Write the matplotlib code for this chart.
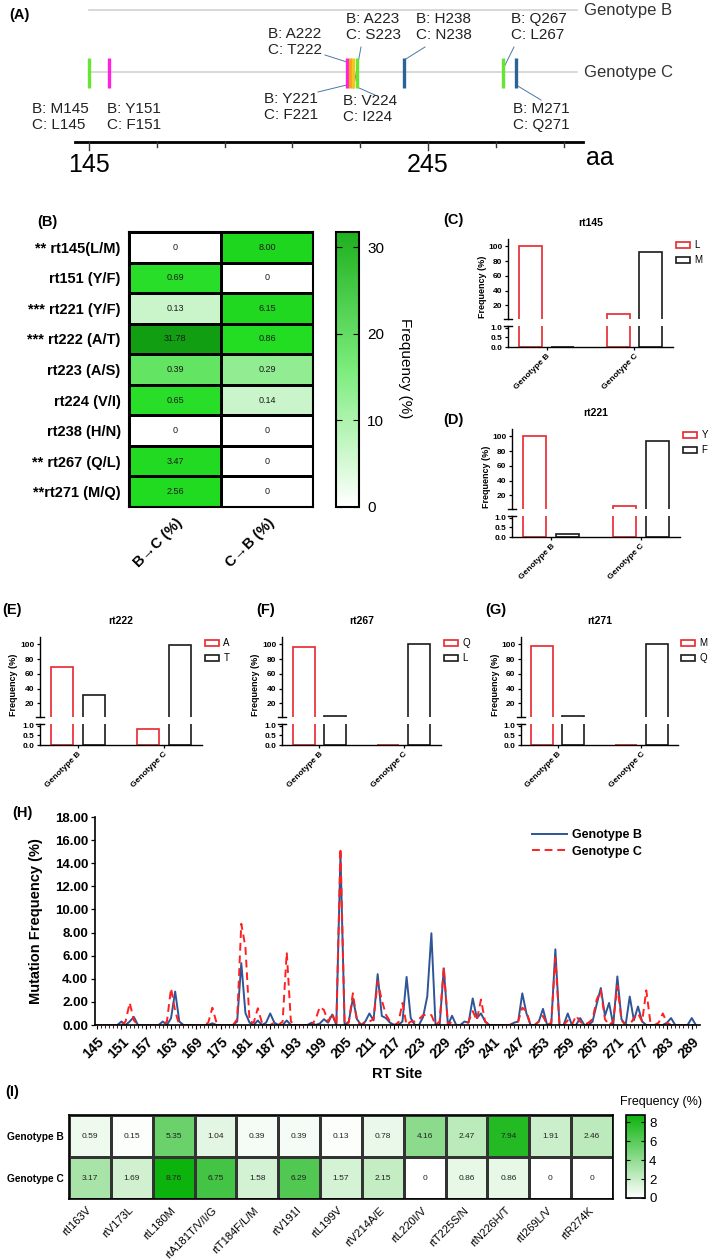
import numpy as np
import matplotlib.pyplot as plt
from matplotlib.colors import LinearSegmentedColormap, Normalize
from matplotlib.cm import ScalarMappable
from matplotlib.patches import Patch

plt.rcParams['font.family'] = ['Liberation Sans', 'DejaVu Sans']

# ---------------- data ----------------
# (A) mutation map
mut_sites = [145, 151, 221, 222, 223, 224, 238, 267, 271]
aa_B = ['M', 'Y', 'Y', 'A', 'A', 'V', 'H', 'Q', 'M']
aa_C = ['L', 'F', 'F', 'T', 'S', 'I', 'N', 'L', 'Q']

# (B) conversion heatmap
mut_rows = ['** rt145(L/M)', 'rt151 (Y/F)', '*** rt221 (Y/F)', '*** rt222 (A/T)',
            'rt223 (A/S)', 'rt224 (V/I)', 'rt238 (H/N)', '** rt267 (Q/L)', '**rt271 (M/Q)']
shift_cols = ['B\u2192C (%)', 'C\u2192B (%)']
b_to_c = [0, 0.69, 0.13, 31.78, 0.39, 0.65, 0, 3.47, 2.56]
c_to_b = [8.00, 0, 6.15, 0.86, 0.29, 0.14, 0, 0, 0]

# (C)-(G) residue frequencies
geno_groups = ['Genotype B', 'Genotype C']
rt145_L = [100, 8]
rt145_M = [0, 92]
rt221_Y = [100, 6]
rt221_F = [0.15, 94]
rt222_A = [69, 0.86]
rt222_T = [32, 99]
rt267_Q = [97, 0]
rt267_L = [3.5, 100]
rt271_M = [98, 0]
rt271_Q = [2.5, 100]

# (H) mutation frequency along RT sites 145-290
rt_sites = np.arange(145, 291)
freq_B = [0, 0, 0, 0, 0, 0, 0.3, 0, 0.3, 0.7,
          0, 0, 0, 0, 0, 0, 0.3, 0, 0.59, 2.9,
          0.3, 0, 0, 0, 0, 0, 0, 0, 0.15, 0,
          0, 0, 0, 0, 0.3, 5.35, 1.04, 0.2, 0, 0.39,
          0, 0.2, 1.0, 0.2, 0, 0, 0.39, 0, 0, 0,
          0, 0, 0.2, 0, 0.13, 0.5, 0.2, 0.9, 0, 14.8,
          0, 0.3, 2.3, 0.5, 0, 0.3, 1.0, 0.4, 4.4, 0.78,
          0.6, 0.2, 0, 0, 0.3, 4.16, 0.6, 0, 0, 0.7,
          2.47, 7.94, 0, 0, 4.9, 0, 0.8, 0, 0, 0.3,
          0.2, 2.3, 0.6, 1.0, 0.3, 0, 0, 0, 0, 0,
          0, 0.2, 0.3, 2.74, 1.0, 0, 0, 0.3, 1.4, 0,
          0, 6.55, 0, 0, 1.0, 0, 0, 0.6, 0, 0,
          0.3, 1.8, 3.2, 0.8, 1.91, 0, 4.2, 0.5, 0, 2.46,
          0.4, 1.6, 0.3, 0, 0, 0, 0, 0, 0.2, 0.6,
          0, 0, 0, 0, 0.6, 0]
freq_C = [0, 0, 0, 0, 0, 0, 0, 0.3, 1.93, 0.4,
          0, 0, 0, 0, 0, 0, 0, 0.3, 3.17, 1.2,
          0, 0, 0, 0, 0, 0, 0, 0.2, 1.5, 0.2,
          0, 0, 0, 0, 0.5, 8.76, 6.75, 0.3, 0.2, 1.45,
          0.2, 0, 0, 0.2, 0, 0.3, 6.29, 0.3, 0, 0,
          0, 0, 0, 0.5, 1.57, 1.3, 0.3, 1.0, 0, 15.3,
          0, 0.2, 2.75, 0.3, 0, 0.2, 0.3, 0.5, 3.75, 2.15,
          0.9, 0.3, 0, 0.2, 1.9, 0, 0.3, 0.3, 0.5, 0.86,
          0.86, 0.86, 0, 0.3, 5.0, 0, 0.3, 0, 0, 0,
          0.3, 1.2, 0.4, 2.2, 0.3, 0, 0, 0, 0, 0,
          0, 0.2, 0.3, 1.5, 1.2, 0, 0, 0.3, 0.8, 0,
          0.2, 5.8, 0, 0, 0.4, 0, 0.8, 0.3, 0, 0.2,
          0.5, 2.2, 3.0, 0.5, 0, 0.3, 3.4, 0.4, 0, 0,
          0.6, 1.0, 0.3, 3.0, 0.2, 0, 0.2, 1.0, 0.2, 0,
          0, 0, 0, 0, 0, 0]

# (I) drug resistance mutations
dr_muts = ['rtI163V', 'rtV173L', 'rtL180M', 'rtA181T/V/I/G', 'rtT184F/L/M', 'rtV191I',
           'rtL199V', 'rtV214A/E', 'rtL220I/V', 'rtT225S/N', 'rtN226H/T', 'rtI269L/V', 'rtR274K']
dr_B = [0.59, 0.15, 5.35, 1.04, 0.39, 0.39, 0.13, 0.78, 4.16, 2.47, 7.94, 1.91, 2.46]
dr_C = [3.17, 1.69, 8.76, 6.75, 1.58, 6.29, 1.57, 2.15, 0, 0.86, 0.86, 0, 0]

# ---------------- figure ----------------
W, H = 709, 1260
fig = plt.figure(figsize=(W / 100, H / 100), dpi=100)
RED = '#e8262f'
BLK = '#1a1a1a'


def box(l, t, r, b):
    return [l / W, 1 - b / H, (r - l) / W, (b - t) / H]


def ftext(x, y, s, **kw):
    fig.text(x / W, 1 - y / H, s, **kw)


def fmt(v):
    return '0' if v == 0 else f'{v:.2f}'


# tags
for tag, x, y in [('(A)', 19, 15), ('(B)', 47, 222), ('(C)', 453, 220), ('(D)', 453, 420),
                  ('(E)', 12, 610), ('(F)', 266, 610), ('(G)', 496, 610), ('(H)', 22, 813),
                  ('(I)', 12, 1092)]:
    ftext(x, y, tag, fontsize=10.5, fontweight='bold', ha='center', va='center')

# ---- (A) ----
ax_a = fig.add_axes([0, 1 - 175 / H, 1, 175 / H])
ax_a.axis('off')


def px2aa(p):
    return 145 + (p - 89) / 3.39


ax_a.set_xlim(px2aa(0), px2aa(W))
ax_a.set_ylim(175, 0)
for yy, name in [(10, 'Genotype B'), (72, 'Genotype C')]:
    ax_a.plot([145, px2aa(577)], [yy, yy], color='#d2d2d2', lw=1.2, zorder=1)
    ax_a.text(px2aa(584), yy, name, fontsize=12, va='center', ha='left', color='#333333')
ax_a.plot([px2aa(75), px2aa(583)], [142, 142], color='k', lw=2)
for t in range(145, 290, 20):
    ax_a.plot([t, t], [142, 150 if t in (145, 245) else 147], color='#333333', lw=1)
for t in (145, 245):
    ax_a.text(t, 165, str(t), fontsize=18, ha='center', va='center')
ax_a.text(px2aa(600), 158, 'aa', fontsize=18, ha='center', va='center')

mut_colors = ['#66e633', '#ff22dd', '#ff22dd', '#f7a21b', '#f5c518', '#66e633',
              '#2a6496', '#66e633', '#2a6496']
ax_a.vlines(mut_sites, 58, 88, colors=mut_colors, lw=2.4, zorder=3)
# label layout: text left px, text centre px, leader start px, leader end y
lab_layout = {145: (32, 117, None, None), 151: (107, 117, None, None),
              221: (264, 107, (318, 92), 85), 222: (268, 42, (325, 55), 63),
              223: (346, 27, (361, 47), 88), 224: (343, 109, (375, 95), 87),
              238: (416, 27, (425, 47), 60), 267: (511, 27, (514, 47), 70),
              271: (513, 117, (541, 100), 85)}
for s, b, c in zip(mut_sites, aa_B, aa_C):
    tx, ty, lead, yend = lab_layout[s]
    ax_a.text(px2aa(tx), ty, f'B: {b}{s}\nC: {c}{s}', fontsize=11, ha='left', va='center',
              linespacing=1.2, color='#222222')
    if lead is not None:
        ax_a.plot([px2aa(lead[0]), s], [lead[1], yend], color='#4a78a8', lw=0.7, zorder=2)

# ---- (B) ----
ax_b = fig.add_axes(box(129, 232, 313, 507))
cmap_b = LinearSegmentedColormap.from_list('b', [
    (0, '#ffffff'), (0.13 / 31.78, '#c8f5c8'), (0.29 / 31.78, '#7fe97f'),
    (0.39 / 31.78, '#5ee35e'), (0.65 / 31.78, '#22dd22'), (8.0 / 31.78, '#1fd61f'),
    (1, '#129e12')])
norm_b = Normalize(0, 31.78)
mat_b = np.column_stack([b_to_c, c_to_b])
ax_b.pcolormesh(mat_b, cmap=cmap_b, norm=norm_b, edgecolors='black', linewidth=0.8)
ax_b.set_ylim(len(mut_rows), 0)
for i in range(mat_b.shape[0]):
    for j in range(mat_b.shape[1]):
        ax_b.text(j + 0.5, i + 0.5, fmt(mat_b[i, j]), ha='center', va='center',
                  fontsize=6.5, color='#1a1a1a')
ax_b.set_yticks(np.arange(len(mut_rows)) + 0.5)
ax_b.set_yticklabels(mut_rows, fontsize=10.5, fontweight='bold')
ax_b.set_xticks(np.arange(2) + 0.5)
ax_b.set_xticklabels(shift_cols, fontsize=10.5, fontweight='bold', rotation=45,
                     ha='right', rotation_mode='anchor')
ax_b.tick_params(length=0, pad=6)
for sp in ax_b.spines.values():
    sp.set_linewidth(1.5)

cax_b = fig.add_axes(box(336, 232, 359, 507))
cmap_bar = LinearSegmentedColormap.from_list('bar', ['#ffffff', '#7cec7c', '#1fb01f'])
cb = fig.colorbar(ScalarMappable(norm_b, cmap_bar), cax=cax_b)
cb.set_ticks([0, 10, 20, 30])
cb.ax.tick_params(labelsize=11, direction='in', left=True, right=True, length=4, pad=6)
cb.outline.set_linewidth(1.5)
ftext(405, 368, 'Frequency (%)', fontsize=11, rotation=-90, ha='center', va='center')


# ---- (C)-(G) ----
def bar_panel(left, right, base, title, names, red_vals, black_vals):
    ax_lo = fig.add_axes(box(left, base - 21, right, base))
    ax_up = fig.add_axes(box(left, base - 108, right, base - 28))
    x = np.arange(len(geno_groups))
    for ax in (ax_lo, ax_up):
        ax.bar(x - 0.185, red_vals, 0.26, facecolor='none', edgecolor=RED, lw=1.2)
        ax.bar(x + 0.185, black_vals, 0.26, facecolor='none', edgecolor=BLK, lw=1.2)
        ax.set_xlim(-0.44, 1.44)
        for k in ('top', 'right'):
            ax.spines[k].set_visible(False)
        for k in ('left', 'bottom'):
            ax.spines[k].set_linewidth(1.0)
        ax.tick_params(labelsize=6, length=2.5, width=0.9, pad=1.5)
    ax_up.set_ylim(1.6, 110)
    ax_up.set_yticks([20, 40, 60, 80, 100])
    ax_up.spines['bottom'].set_visible(False)
    ax_up.tick_params(axis='x', bottom=False, labelbottom=False)
    ax_lo.set_ylim(0, 1.1)
    ax_lo.set_yticks([0, 0.5, 1.0])
    ax_lo.set_yticklabels(['0.0', '0.5', '1.0'])
    ax_lo.set_xticks(x)
    ax_lo.set_xticklabels(geno_groups, rotation=45, ha='right', rotation_mode='anchor',
                          fontsize=6, fontweight='bold')
    for ax in (ax_lo, ax_up):
        for lab in ax.get_yticklabels():
            lab.set_fontweight('bold')
    ax_up.plot([-0.025, 0.025], [0, 0], transform=ax_up.transAxes, color='k', lw=1,
               clip_on=False)
    ax_lo.plot([-0.025, 0.025], [1, 1], transform=ax_lo.transAxes, color='k', lw=1,
               clip_on=False)
    ax_up.set_title(title, fontsize=7.5, fontweight='bold', pad=9)
    handles = [Patch(facecolor='none', edgecolor=RED, lw=1.2),
               Patch(facecolor='none', edgecolor=BLK, lw=1.2)]
    ax_up.legend(handles, names, loc='upper left', bbox_to_anchor=(1.0, 1.02),
                 frameon=False, fontsize=7, handlelength=1.4, handleheight=0.6,
                 handletextpad=0.5, labelspacing=0.5, borderaxespad=0.3, borderpad=0)
    ftext(left - 26, base - 60, 'Frequency (%)', fontsize=6.5, fontweight='bold',
          rotation=90, ha='center', va='center')


bar_panel(508, 673, 347, 'rt145', ['L', 'M'], rt145_L, rt145_M)
bar_panel(512, 680, 537, 'rt221', ['Y', 'F'], rt221_Y, rt221_F)
bar_panel(40, 202, 745, 'rt222', ['A', 'T'], rt222_A, rt222_T)
bar_panel(282, 441, 745, 'rt267', ['Q', 'L'], rt267_Q, rt267_L)
bar_panel(521, 678, 745, 'rt271', ['M', 'Q'], rt271_M, rt271_Q)

# ---- (H) ----
ax_h = fig.add_axes(box(95, 817, 700, 1025))
ax_h.plot(rt_sites, freq_B, color='#2f5597', lw=1.4, label='Genotype B')
ax_h.plot(rt_sites, freq_C, color='#ff2020', lw=1.4, ls=(0, (4, 2.5)), label='Genotype C')
ax_h.set_xlim(144.6, 291)
ax_h.set_ylim(0, 18)
ax_h.set_yticks(np.arange(0, 19, 2))
ax_h.set_yticklabels([f'{v:.2f}' for v in np.arange(0, 19, 2)], fontsize=9.5, fontweight='bold')
ax_h.set_xticks(np.arange(145, 290, 6))
ax_h.set_xticks(np.arange(145, 291, 1), minor=True)
ax_h.set_xticklabels([str(v) for v in np.arange(145, 290, 6)], rotation=45, ha='right',
                     rotation_mode='anchor', fontsize=10, fontweight='bold')
ax_h.tick_params(axis='x', which='major', length=3, width=0.8, pad=4)
ax_h.tick_params(axis='x', which='minor', length=2, width=0.6)
ax_h.tick_params(axis='y', length=3, width=0.9, pad=2)
for k in ('top', 'right'):
    ax_h.spines[k].set_visible(False)
for k in ('left', 'bottom'):
    ax_h.spines[k].set_linewidth(1.2)
ax_h.set_xlabel('RT Site', fontsize=10.5, fontweight='bold', labelpad=4)
ax_h.set_ylabel('Mutation Frequency (%)', fontsize=10.5, fontweight='bold')
ax_h.yaxis.set_label_coords(-52 / 605, 0.5)
ax_h.legend(loc='upper left', bbox_to_anchor=((532 - 95) / 605, 0.94), frameon=False,
            prop={'weight': 'bold', 'size': 9}, handlelength=2.8, handletextpad=0.4,
            labelspacing=0.35, borderpad=0, borderaxespad=0)

# ---- (I) ----
ax_i = fig.add_axes(box(69, 1115, 613, 1199))
cmap_i = LinearSegmentedColormap.from_list('i', ['#ffffff', '#0db30d'])
norm_i = Normalize(0, 8.76)
mat_i = np.array([dr_B, dr_C])
ax_i.pcolormesh(mat_i, cmap=cmap_i, norm=norm_i, edgecolors='#333333', linewidth=0.8)
ax_i.set_ylim(2, 0)
for i in range(mat_i.shape[0]):
    for j in range(mat_i.shape[1]):
        ax_i.text(j + 0.5, i + 0.5, fmt(mat_i[i, j]), ha='center', va='center',
                  fontsize=6, color='#222222')
ax_i.set_yticks([0.5, 1.5])
ax_i.set_yticklabels(geno_groups, fontsize=7.3, fontweight='bold')
ax_i.tick_params(axis='y', length=0, pad=4)
ax_i.set_xticks(np.arange(len(dr_muts)) + 0.5)
ax_i.set_xticklabels(dr_muts, rotation=45, ha='right', va='center', rotation_mode='anchor',
                     fontsize=8)
ax_i.tick_params(axis='x', length=0, pad=7)
for sp in ax_i.spines.values():
    sp.set_linewidth(1.2)

cax_i = fig.add_axes(box(626, 1115, 645, 1198))
cb_i = fig.colorbar(ScalarMappable(norm_i, cmap_i), cax=cax_i)
cb_i.set_ticks([0, 2, 4, 6, 8])
cb_i.ax.tick_params(labelsize=9.5, direction='in', left=True, right=True, length=3, pad=3)
cb_i.outline.set_linewidth(1.2)
ftext(661, 1102, 'Frequency (%)', fontsize=9, ha='center', va='center')

fig.savefig('out.png', dpi=100)
